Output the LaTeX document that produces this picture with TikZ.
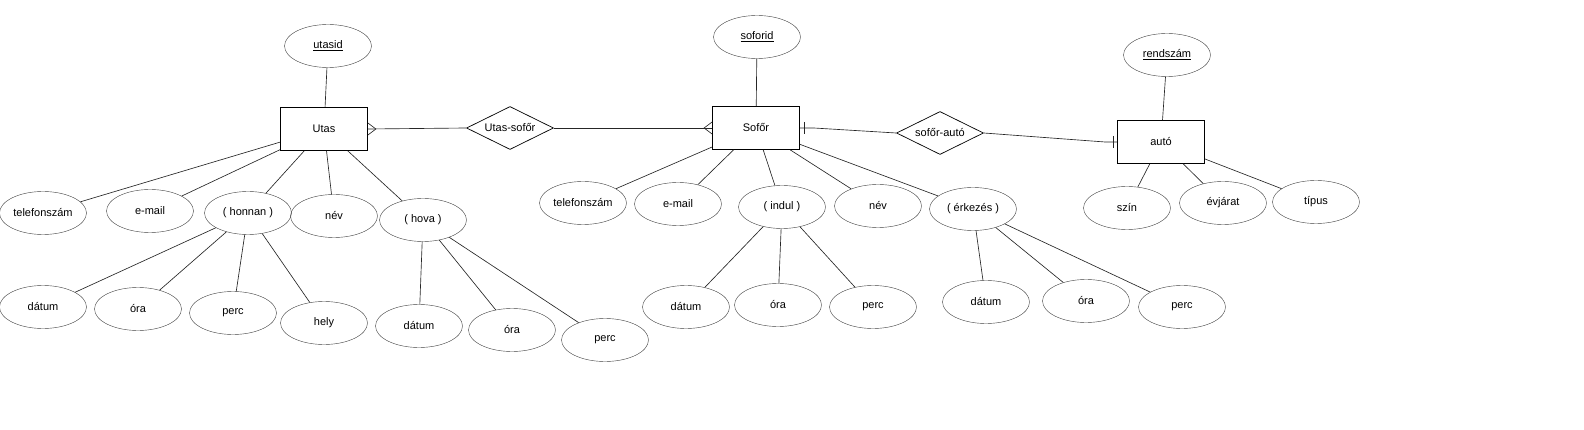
\documentclass[tikz,border=0pt]{standalone}
\usepackage{fontspec}
\setmainfont{Liberation Sans}
\usetikzlibrary{shapes,positioning,calc}

\tikzset{
  attr/.style={draw=black!75, ellipse, minimum width=87pt, minimum height=43pt, inner sep=0pt},
  entity/.style={draw, line width=0.8pt, rectangle, minimum width=87pt, minimum height=43pt, inner sep=0pt},
  rel/.style={draw, line width=0.7pt, diamond, aspect=2, minimum width=87pt, minimum height=43pt, inner sep=0pt},
  link/.style={draw=black!85, line width=0.65pt}
}

\begin{document}
\begin{tikzpicture}[x=1pt, y=-1pt, font=\fontsize{11}{13}\selectfont]
    \useasboundingbox (0,0) rectangle (1584,430);

    % Utas
    \node[entity] (utas) at (324,129) {Utas};
    \node[attr] (utasid) at (328,46) {\underline{utasid}};
    \node[attr] (tel1) at (43,213) {telefonszám};
    \node[attr] (mail1) at (150,211) {e-mail};
    \node[attr] (honnan) at (248,213) {( honnan )};
    \node[attr] (nev1) at (334,216) {név};
    \node[attr] (hova) at (423,220) {( hova )};
    \node[attr] (dat1) at (43,307) {dátum};
    \node[attr] (ora1) at (138,309) {óra};
    \node[attr] (perc1) at (233,313) {perc};
    \node[attr] (hely) at (324,323) {hely};
    \node[attr] (dat2) at (419,326) {dátum};
    \node[attr] (ora2) at (512,330) {óra};
    \node[attr] (perc2) at (605,340) {perc};

    % Sofőr
    \node[entity] (sofor) at (756,128) {Sofőr};
    \node[attr] (soforid) at (757,37) {\underline{soforid}};
    \node[attr] (tel2) at (583,203) {telefonszám};
    \node[attr] (mail2) at (678,204) {e-mail};
    \node[attr] (indul) at (782,207) {( indul )};
    \node[attr] (nev2) at (878,206) {név};
    \node[attr] (erk) at (973,209) {( érkezés )};
    \node[attr] (dat3) at (686,307) {dátum};
    \node[attr] (ora3) at (778,305) {óra};
    \node[attr] (perc3) at (873,307) {perc};
    \node[attr] (dat4) at (986,302) {dátum};
    \node[attr] (ora4) at (1086,301) {óra};
    \node[attr] (perc4) at (1182,307) {perc};

    % autó
    \node[entity] (auto) at (1161,142) {autó};
    \node[attr] (rendszam) at (1167,55) {\underline{rendszám}};
    \node[attr] (szin) at (1127,208) {szín};
    \node[attr] (evjarat) at (1223,203) {évjárat};
    \node[attr] (tipus) at (1316,202) {típus};

    % kapcsolatok
    \node[rel] (us) at (510,128) {Utas-sofőr};
    \node[rel] (sa) at (940,133) {sofőr-autó};

    % attribute links
    \foreach \a/\b in {utas/utasid, utas/tel1, utas/mail1, utas/honnan, utas/nev1, utas/hova,
        honnan/dat1, honnan/ora1, honnan/perc1, honnan/hely, hova/dat2, hova/ora2, hova/perc2,
        sofor/soforid, sofor/tel2, sofor/mail2, sofor/indul, sofor/nev2, sofor/erk,
        indul/dat3, indul/ora3, indul/perc3, erk/dat4, erk/ora4, erk/perc4,
        auto/rendszam, auto/szin, auto/evjarat, auto/tipus}
        \draw[link] (\a) -- (\b);

    % Utas-sofőr, many on both sides
    \draw[link] (us.west) -- (utas.east);
    \draw[link] ([yshift=6pt]utas.east) -- ([xshift=8pt]utas.east) -- ([yshift=-6pt]utas.east);
    \draw[link] (us.east) -- (sofor.west);
    \draw[link] ([yshift=6pt]sofor.west) -- ([xshift=-8pt]sofor.west) -- ([yshift=-6pt]sofor.west);

    % sofőr-autó, one on both sides
    \draw[link] (sofor.east) -- ([xshift=14pt]sofor.east) -- (sa.west);
    \draw[link] ([xshift=4pt,yshift=6pt]sofor.east) -- ([xshift=4pt,yshift=-6pt]sofor.east);
    \draw[link] (sa.east) -- ([xshift=-12pt]auto.west) -- (auto.west);
    \draw[link] ([xshift=-4pt,yshift=6pt]auto.west) -- ([xshift=-4pt,yshift=-6pt]auto.west);
\end{tikzpicture}
\end{document}
